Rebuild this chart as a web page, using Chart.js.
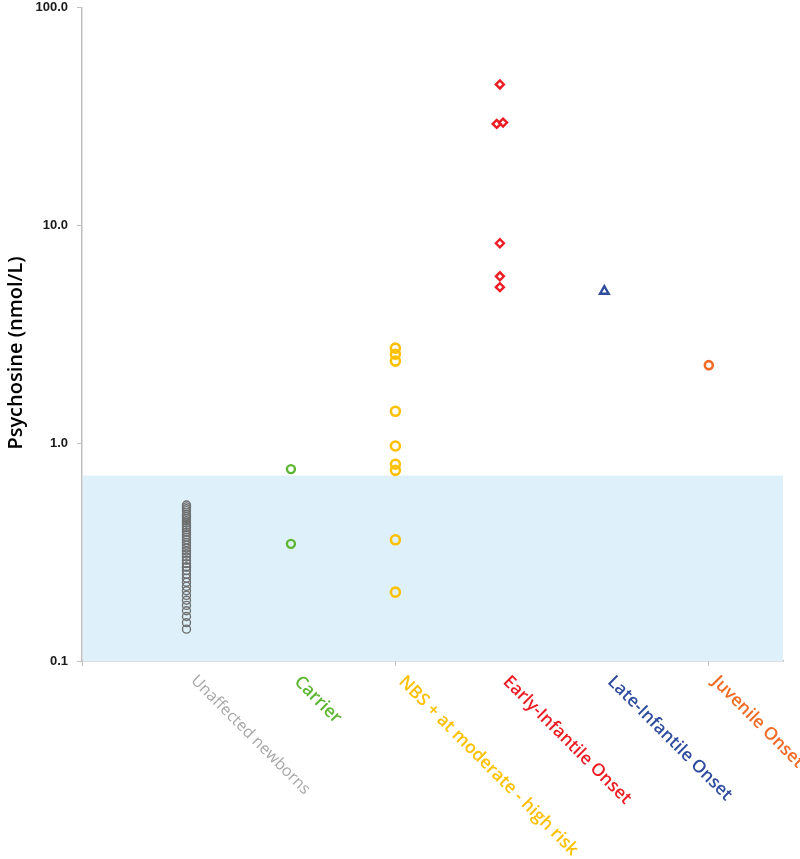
<!DOCTYPE html>
<html>
<head>
<meta charset="utf-8">
<script src="https://cdn.jsdelivr.net/npm/chart.js@4.4.1/dist/chart.umd.min.js"></script>
<style>
  html, body { margin: 0; padding: 0; background: #ffffff; }
  #wrap { width: 800px; height: 859px; position: relative; }
</style>
</head>
<body>
<div id="wrap"><canvas id="c" width="800" height="859"></canvas></div>
<script>
// ---- Data ----
const categories = ["Unaffected newborns", "Carrier", "NBS + at moderate - high risk", "Early-Infantile Onset", "Late-Infantile Onset", "Juvenile Onset"];
const categoryColors = ["#a6a6a6", "#5db631", "#ffc000", "#ec1c24", "#2f4c9f", "#f26a24"];
const unaffected = [0.52, 0.51, 0.50, 0.49, 0.47, 0.46, 0.45, 0.44, 0.43, 0.42, 0.41, 0.40, 0.39, 0.38, 0.37, 0.36, 0.35, 0.34, 0.33, 0.32, 0.31, 0.30, 0.29, 0.28, 0.27, 0.27, 0.26, 0.25, 0.24, 0.23, 0.22, 0.21, 0.20, 0.19, 0.18, 0.17, 0.16, 0.15, 0.14];
const carrier = [0.76, 0.345];
const nbs = [2.73, 2.56, 2.38, 1.40, 0.97, 0.80, 0.75, 0.36, 0.207];
const earlyInfantile = [44.3, 29.2, 29.6, 8.27, 5.83, 5.2];
const earlyInfantileX = [4, 3.97, 4.03, 4, 4, 4];
const lateInfantile = [4.98];
const juvenile = [2.28];
const yTickValues = [0.1, 1, 10, 100];
const referenceUpper = 0.71;
const referenceLower = 0.1;
const yAxisTitle = "Psychosine (nmol/L)";

function pts(values, xPos) {
  return values.map(v => ({ x: xPos, y: v }));
}

const bandPlugin = {
  id: 'band',
  beforeDatasetsDraw(chart) {
    const { ctx, chartArea, scales } = chart;
    const yTop = scales.y.getPixelForValue(referenceUpper);
    const yBot = scales.y.getPixelForValue(referenceLower);
    ctx.save();
    ctx.fillStyle = '#def1fa';
    ctx.fillRect(chartArea.left + 1, yTop, chartArea.right - chartArea.left - 1, yBot - yTop);
    ctx.restore();
  }
};

const labelPlugin = {
  id: 'catLabels',
  afterDraw(chart) {
    const { ctx, scales } = chart;
    const yBase = scales.y.getPixelForValue(referenceLower);
    ctx.save();
    ctx.textAlign = 'left';
    ctx.textBaseline = 'middle';
    categories.forEach((c, i) => {
      const x = scales.x.getPixelForValue(i + 1);
      ctx.save();
      if (i === 0) {
        ctx.font = '16px "Open Sans", sans-serif';
        ctx.translate(x + 7, yBase + 17);
      } else {
        ctx.font = '600 17.5px "Open Sans", sans-serif';
        ctx.translate(x + 6, yBase + 18);
      }
      ctx.rotate(Math.PI / 4);
      ctx.fillStyle = categoryColors[i];
      ctx.fillText(c, 0, 0);
      ctx.restore();
    });
    // y axis title
    ctx.save();
    ctx.translate(16, 353);
    ctx.rotate(-Math.PI / 2);
    ctx.textAlign = 'center';
    ctx.textBaseline = 'middle';
    ctx.font = '600 20px "Open Sans", sans-serif';
    ctx.fillStyle = '#000000';
    ctx.fillText(yAxisTitle, 0, 0);
    ctx.restore();
    ctx.restore();
  }
};

const circle = (color, r, bw) => ({
  pointStyle: 'circle', pointRadius: r, pointHoverRadius: r,
  borderColor: color, backgroundColor: 'rgba(255,255,255,0)', pointBorderWidth: bw, borderWidth: bw
});

new Chart(document.getElementById('c'), {
  type: 'scatter',
  data: {
    datasets: [
      Object.assign({ label: categories[0], data: pts(unaffected, 1) }, circle('#6f6f6f', 4, 1.4)),
      Object.assign({ label: categories[1], data: pts(carrier, 2) }, circle('#5db631', 4, 2.4)),
      Object.assign({ label: categories[2], data: pts(nbs, 3) }, circle('#ffc000', 4.5, 2.6)),
      { label: categories[3], data: earlyInfantile.map((v, i) => ({ x: earlyInfantileX[i], y: v })),
        pointStyle: 'rectRot', pointRadius: 4, borderColor: '#ec1c24', backgroundColor: 'rgba(255,255,255,0)', pointBorderWidth: 2.4, borderWidth: 2.4 },
      { label: categories[4], data: pts(lateInfantile, 5),
        pointStyle: 'triangle', pointRadius: 5, borderColor: '#2f4c9f', backgroundColor: 'rgba(255,255,255,0)', pointBorderWidth: 2.4, borderWidth: 2.4 },
      Object.assign({ label: categories[5], data: pts(juvenile, 6) }, circle('#f26a24', 4, 2.6))
    ]
  },
  options: {
    responsive: false,
    animation: false,
    layout: { padding: { top: 7, right: 17, bottom: 0, left: 0 } },
    plugins: { legend: { display: false }, tooltip: { enabled: false } },
    scales: {
      x: {
        type: 'linear', min: 0, max: 6.71,
        afterBuildTicks(scale) { scale.ticks = [{ value: 0 }, { value: 3 }, { value: 6 }]; },
        afterFit(scale) { scale.height = 198; scale.paddingLeft = 0; scale.paddingRight = 0; },
        ticks: { display: false },
        grid: { drawOnChartArea: false, drawTicks: true, tickLength: 5, color: '#bfbfbf' },
        border: { color: '#bfbfbf', width: 1.5 }
      },
      y: {
        type: 'logarithmic', min: 0.1, max: 100,
        afterBuildTicks(scale) { scale.ticks = yTickValues.map(v => ({ value: v, major: true })); },
        afterFit(scale) { scale.width = 82; scale.paddingTop = 0; scale.paddingBottom = 0; },
        ticks: {
          autoSkip: false,
          padding: 9,
          color: '#1a1a1a',
          font: { family: '"Liberation Sans", Arial, sans-serif', size: 13, weight: 'bold' },
          callback: (v) => Number(v).toFixed(1)
        },
        grid: { drawOnChartArea: false, drawTicks: true, tickLength: 5, color: '#bfbfbf' },
        border: { color: '#bfbfbf', width: 1.5 }
      }
    }
  },
  plugins: [bandPlugin, labelPlugin]
});
</script>
</body>
</html>
